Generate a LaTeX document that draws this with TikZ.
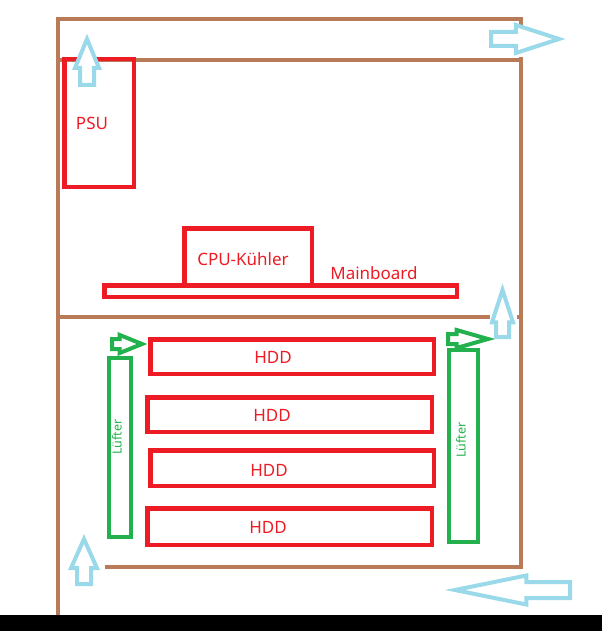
\documentclass[tikz,border=0pt]{standalone}
\usepackage{fontspec}
\setmainfont{Noto Sans}
\usetikzlibrary{shapes.arrows}
\definecolor{gehaeuse}{HTML}{B97A57}
\definecolor{bauteil}{HTML}{ED1C24}
\definecolor{luefter}{HTML}{22B14C}
\definecolor{luft}{HTML}{99D9EA}
\begin{document}
\begin{tikzpicture}[x=1pt, y=-1pt]

% --- Styles ---
\tikzset{
    wall/.style={draw=gehaeuse, line width=4.3pt},
    part/.style={draw=bauteil, line width=4.5pt, inner sep=0pt},
    fan/.style={draw=luefter, line width=4pt, inner sep=0pt},
    partlabel/.style={text=bauteil, font=\fontsize{17}{17}\selectfont, inner sep=0pt},
    fanlabel/.style={text=luefter, font=\fontsize{12.5}{12.5}\selectfont, inner sep=0pt, rotate=90},
    airflow/.style={single arrow, draw=luft, fill=white, line width=4pt, inner xsep=0pt, anchor=tail},
    fanflow/.style={single arrow, draw=luefter, fill=white, line width=4pt, inner xsep=0pt, anchor=tail}
}

    \useasboundingbox (0,0) rectangle (602,631);
    \fill[black] (0,615) rectangle (602,631);

    % Gehaeuse
    \draw[wall] (58,17) -- (58,615);
    \draw[wall] (56,19) -- (521,19) -- (521,25);
    \draw[wall] (58,60) -- (521,60);
    \draw[wall] (521,57) -- (521,569);
    \draw[wall] (58,317) -- (490,317);
    \draw[wall] (517,317) -- (521,317);
    \draw[wall] (105,567) -- (521,567);

    % Netzteil, CPU, Mainboard
    \node[part, minimum width=69.5, minimum height=127.5] (psu) at (99,123) {};
    \node[partlabel] (psu-text) at (92,123) {PSU};
    \node[part, minimum width=352.5, minimum height=11.5] (mainboard) at (280.5,291) {};
    \node[partlabel] (mainboard-text) at (374,273) {Mainboard};
    \node[part, minimum width=127.5, minimum height=57.5] (cpu) at (248,257) {};
    \node[partlabel] (cpu-text) at (243,259) {CPU-Kühler};

    % Festplatten
    \node[part, minimum width=283.5, minimum height=34.5] (hdd1) at (292,356.5) {};
    \node[part, minimum width=284.5, minimum height=34.5] (hdd2) at (289.5,414.5) {};
    \node[part, minimum width=283.5, minimum height=35.5] (hdd3) at (292,468) {};
    \node[part, minimum width=284.5, minimum height=36.5] (hdd4) at (289.5,526.5) {};
    \node[partlabel] (hdd1-text) at (273,357) {HDD};
    \node[partlabel] (hdd2-text) at (272,415) {HDD};
    \node[partlabel] (hdd3-text) at (269,470) {HDD};
    \node[partlabel] (hdd4-text) at (268,527) {HDD};

    % Luefter
    \node[fan, minimum width=22, minimum height=179] (fanL) at (120,447.5) {};
    \node[fanlabel] (fanL-text) at (117,437) {Lüfter};
    \node[fan, minimum width=29, minimum height=192] (fanR) at (463,446) {};
    \node[fanlabel] (fanR-text) at (461,440) {Lüfter};
    \node[fanflow, inner ysep=3pt, single arrow head extend=4pt, single arrow tip angle=44, minimum height=30] (flowL) at (110,344) {};
    \node[fanflow, inner ysep=3pt, single arrow head extend=4pt, single arrow tip angle=32, minimum height=40] (flowR) at (446,339) {};

    % Luftstrom
    \node[airflow, rotate=90, inner ysep=5pt, single arrow head extend=5pt, single arrow tip angle=45, minimum height=46] (air-psu) at (87,87) {};
    \node[airflow, inner ysep=5pt, single arrow head extend=7pt, single arrow tip angle=36, minimum height=68] (air-out) at (489,39) {};
    \node[airflow, rotate=90, inner ysep=4.5pt, single arrow head extend=4pt, single arrow tip angle=36, minimum height=47] (air-mid) at (502.5,339) {};
    \node[airflow, rotate=90, inner ysep=5pt, single arrow head extend=6pt, single arrow tip angle=48, minimum height=45] (air-in) at (84,586) {};
    \node[airflow, rotate=180, inner ysep=6pt, single arrow head extend=6.5pt, single arrow tip angle=23, minimum height=115] (air-back) at (572,590) {};

\end{tikzpicture}
\end{document}
